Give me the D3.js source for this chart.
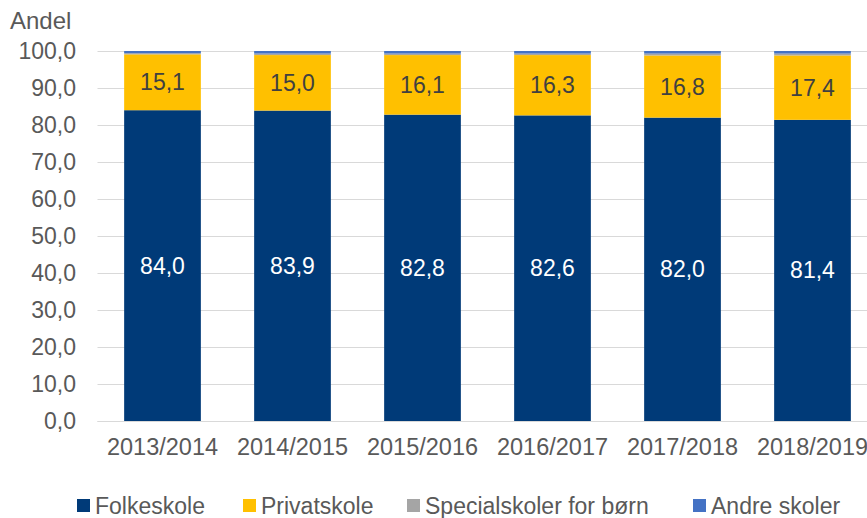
<!DOCTYPE html>
<html>
<head>
<meta charset="utf-8">
<script src="https://cdn.jsdelivr.net/npm/d3@7"></script>
<style>
  body { margin: 0; background: #fff; }
  svg { font-family: "Liberation Sans", Arial, sans-serif; }
</style>
</head>
<body>
<svg id="chart" width="867" height="518"></svg>
<script>
const years = ['2013/2014', '2014/2015', '2015/2016', '2016/2017', '2017/2018', '2018/2019'];
const folkeskole = [84.0, 83.9, 82.8, 82.6, 82.0, 81.4];
const privatskole = [15.1, 15.0, 16.1, 16.3, 16.8, 17.4];
const specialskoler = [0.3, 0.4, 0.4, 0.4, 0.5, 0.5];
const andreSkoler = [0.6, 0.7, 0.7, 0.7, 0.7, 0.7];
const yTicks = [0, 10, 20, 30, 40, 50, 60, 70, 80, 90, 100];

const series = [
  { name: 'Folkeskole', values: folkeskole, colour: '#003A78', label: true },
  { name: 'Privatskole', values: privatskole, colour: '#FFC000', label: true },
  { name: 'Specialskoler for børn', values: specialskoler, colour: '#A5A5A5', label: false },
  { name: 'Andre skoler', values: andreSkoler, colour: '#4472C4', label: false }
];

const svg = d3.select('#chart');
const fmt = v => d3.format('.1f')(v).replace('.', ',');

const x = d3.scaleBand().domain(years).range([97.5, 877.5]).paddingInner(0.41).paddingOuter(0.205);
const y = d3.scaleLinear().domain([0, 100]).range([421, 51]);

// gridlines
svg.append('g')
  .selectAll('line')
  .data(yTicks)
  .enter().append('line')
  .attr('x1', 97.5).attr('x2', 867)
  .attr('y1', d => Math.round(y(d)) + 0.5)
  .attr('y2', d => Math.round(y(d)) + 0.5)
  .style('stroke', '#D9D9D9')
  .style('stroke-width', 1);

// y tick labels
svg.append('g')
  .selectAll('text')
  .data(yTicks)
  .enter().append('text')
  .attr('x', 76)
  .attr('y', d => y(d))
  .attr('dy', '0.35em')
  .attr('text-anchor', 'end')
  .style('font-size', '23px')
  .style('fill', '#595959')
  .text(fmt);

svg.append('text')
  .attr('x', 10).attr('y', 29)
  .style('font-size', '24px')
  .style('fill', '#595959')
  .text('Andel');

// stacked bars
const rows = years.map((yr, i) => {
  const r = { year: yr };
  series.forEach(s => { r[s.name] = s.values[i]; });
  return r;
});
const stack = d3.stack().keys(series.map(s => s.name))(rows);

stack.forEach((layer, li) => {
  const s = series[li];
  const g = svg.append('g');
  g.selectAll('rect')
    .data(layer)
    .enter().append('rect')
    .attr('x', d => x(d.data.year))
    .attr('width', x.bandwidth())
    .attr('y', d => y(d[1]))
    .attr('height', d => y(d[0]) - y(d[1]))
    .style('fill', s.colour);
  if (s.label) {
    g.selectAll('text')
      .data(layer)
      .enter().append('text')
      .attr('x', d => x(d.data.year) + x.bandwidth() / 2)
      .attr('y', d => (y(d[0]) + y(d[1])) / 2)
      .attr('dy', '0.35em')
      .attr('text-anchor', 'middle')
      .style('font-size', '23px')
      .style('fill', li === 0 ? '#FFFFFF' : '#404040')
      .text(d => fmt(d.data[s.name]));
  }
});

// x axis line
svg.append('line')
  .attr('x1', 97.5).attr('x2', 867)
  .attr('y1', 421.5).attr('y2', 421.5)
  .style('stroke', '#D9D9D9');

// x labels
svg.append('g')
  .selectAll('text')
  .data(years)
  .enter().append('text')
  .attr('x', d => x(d) + x.bandwidth() / 2)
  .attr('y', 447)
  .attr('dy', '0.35em')
  .attr('text-anchor', 'middle')
  .style('font-size', '23.5px')
  .style('fill', '#595959')
  .text(d => d);

// legend
const legendX = [77, 243, 407, 693];
const legend = svg.append('g')
  .selectAll('g')
  .data(series)
  .enter().append('g')
  .attr('transform', (d, i) => 'translate(' + legendX[i] + ',505)');
legend.append('rect')
  .attr('x', 0).attr('y', -6)
  .attr('width', 13).attr('height', 13)
  .style('fill', d => d.colour);
legend.append('text')
  .attr('x', 18).attr('y', 1)
  .attr('dy', '0.35em')
  .style('font-size', '23px')
  .style('fill', '#595959')
  .text(d => d.name);
</script>
</body>
</html>
